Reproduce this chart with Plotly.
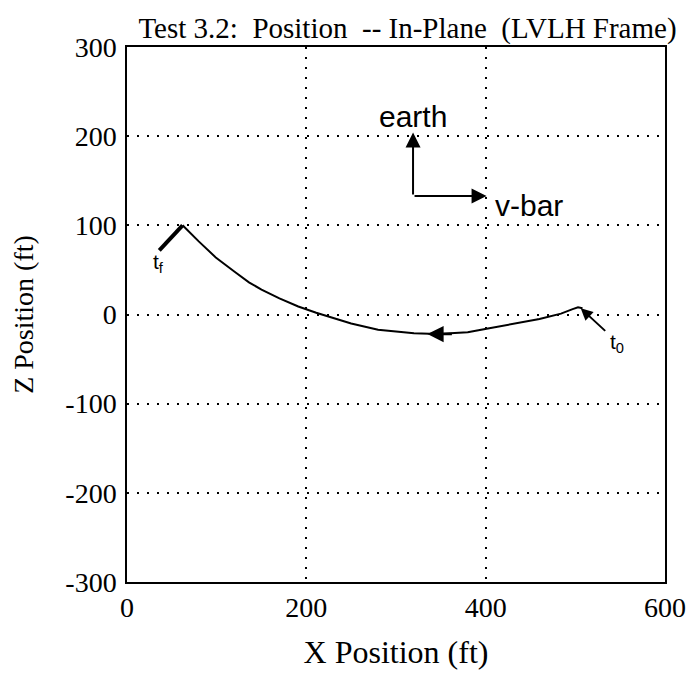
import plotly.graph_objects as go

# trajectory in time order (t0 -> tf)
x_pos = [508, 503, 497, 484, 460, 440, 420, 401, 380, 360, 346, 320, 300, 280,
         250, 230, 211, 191, 170, 150, 136, 120, 99, 80, 62]
z_pos = [7, 8, 6, 1, -5, -9, -13, -16, -20, -21, -22, -21, -19, -17,
         -10, -4, 2, 9, 18, 28, 36, 48, 64, 82, 100]
# final segment to tf (drawn heavier)
x_end = [62, 49, 36]
z_end = [100, 86, 72]

x_ticks = [0, 200, 400, 600]
x_labels = ["0", "200", "400", "600"]
z_ticks = [-300, -200, -100, 0, 100, 200, 300]
z_labels = ["-300", "-200", "-100", "0", "100", "200", "300"]

serif = "Liberation Serif, Times New Roman, serif"
sans = "Liberation Sans, Arial, sans-serif"

fig = go.Figure()
fig.add_trace(go.Scatter(x=x_pos, y=z_pos, mode="lines",
                         line=dict(color="black", width=2), showlegend=False))
fig.add_trace(go.Scatter(x=x_end, y=z_end, mode="lines",
                         line=dict(color="black", width=4), showlegend=False))

ann = []
# t0 pointer
ann.append(dict(x=506, y=7, xref="x", yref="y", ax=26, ay=24, showarrow=True,
                arrowhead=2, arrowsize=1.2, arrowwidth=2, arrowcolor="black", text=""))
ann.append(dict(x=546, y=-32, xref="x", yref="y", text="t<sub>0</sub>", showarrow=False,
                font=dict(family=sans, size=21, color="black")))
ann.append(dict(x=35, y=58, xref="x", yref="y", text="t<sub>f</sub>", showarrow=False,
                font=dict(family=sans, size=21, color="black")))
# direction arrow on curve
ann.append(dict(x=335, y=-22, xref="x", yref="y", ax=26, ay=0, showarrow=True,
                arrowhead=2, arrowsize=1.3, arrowwidth=2.5, arrowcolor="black", text=""))
# earth / v-bar axes
ann.append(dict(x=319, y=204, xref="x", yref="y", ax=319, ay=133, axref="x", ayref="y",
                showarrow=True, arrowhead=2, arrowsize=1.5, arrowwidth=2,
                arrowcolor="black", text=""))
ann.append(dict(x=401, y=133, xref="x", yref="y", ax=319, ay=133, axref="x", ayref="y",
                showarrow=True, arrowhead=2, arrowsize=1.5, arrowwidth=2,
                arrowcolor="black", text=""))
ann.append(dict(x=319, y=222, xref="x", yref="y", text="earth", showarrow=False,
                font=dict(family=sans, size=30, color="black")))
ann.append(dict(x=408, y=122, xref="x", yref="y", text="v-bar", showarrow=False,
                xanchor="left", font=dict(family=sans, size=30, color="black")))

fig.update_layout(
    width=690, height=669,
    margin=dict(l=119, r=27, t=39, b=95),
    paper_bgcolor="white", plot_bgcolor="white",
    title=dict(text="Test 3.2:  Position  -- In-Plane  (LVLH Frame)",
               x=0.579, xanchor="center", y=0.986, yanchor="top",
               pad=dict(t=0, b=0),
               font=dict(family=serif, size=29, color="black")),
    annotations=ann,
    font=dict(family=serif, color="black"),
)
grid_dash = "2px,8px"
fig.update_xaxes(range=[0, 600], tickvals=x_ticks, ticktext=x_labels, showgrid=True,
                 gridcolor="black", griddash=grid_dash, gridwidth=2,
                 showline=True, linecolor="black", linewidth=1.5, mirror=True,
                 zeroline=False, ticks="", tickfont=dict(family=serif, size=28),
                 title=dict(text="X Position (ft)", font=dict(family=serif, size=32),
                            standoff=18))
fig.update_yaxes(range=[-300, 300], tickvals=z_ticks, ticktext=z_labels, showgrid=True,
                 gridcolor="black", griddash=grid_dash, gridwidth=2,
                 showline=True, linecolor="black", linewidth=1.5, mirror=True,
                 zeroline=False, ticks="", tickfont=dict(family=serif, size=28),
                 ticklabelstandoff=3,
                 title=dict(text="Z Position (ft)", font=dict(family=serif, size=28),
                            standoff=24))

fig.write_html("out.html")
